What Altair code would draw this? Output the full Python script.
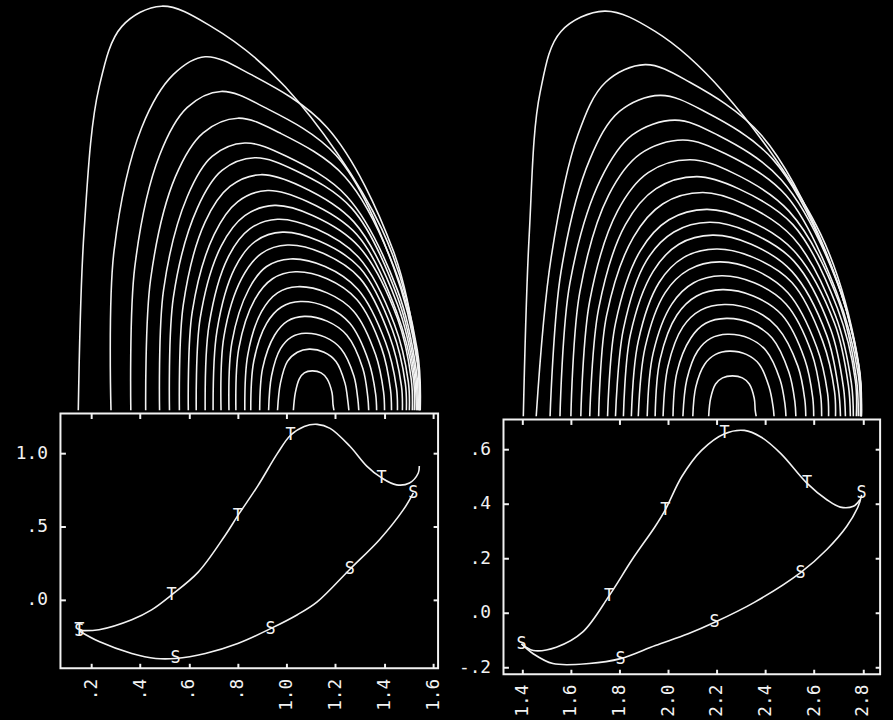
import altair as alt
import pandas as pd

FONT = "DejaVu Sans Mono"
WHITE = "#f2f2f2"

# ---------------- upper panels: nested contour arches ----------------
# fractions of each arch's height at which its x positions were read
LEVELS = [0, 0.45, 0.8, 0.95, 1.0, 0.95, 0.8, 0.45, 0.15, 0]

left_arch_height = [408, 357, 322, 295, 270, 255, 238, 222, 207, 193,
                    180, 167, 153, 140, 125, 110, 95, 78, 62, 40]
left_arch_x = [
    [18, 24, 39, 62, 102, 152, 227, 324, 360, 363],
    [51, 54, 82, 114, 146, 192, 269, 336, 360, 363],
    [71, 75, 100, 128, 162, 206, 278, 336, 360, 362],
    [86, 91, 116, 144, 179, 221, 287, 341, 361, 362],
    [100, 104, 128, 153, 186, 228, 289, 340, 359, 361],
    [110, 114, 138, 163, 196, 237, 294, 340, 358, 360],
    [120, 124, 146, 171, 202, 243, 296, 340, 357, 359],
    [129, 133, 155, 179, 209, 249, 299, 339, 356, 357],
    [137, 141, 162, 186, 216, 255, 301, 340, 354, 355],
    [146, 150, 169, 191, 219, 258, 301, 337, 351, 352],
    [154, 158, 176, 197, 224, 261, 302, 335, 348, 349],
    [162, 165, 183, 203, 229, 265, 302, 332, 344, 345],
    [170, 173, 190, 208, 232, 267, 300, 328, 339, 340],
    [177, 180, 196, 214, 237, 269, 299, 324, 333, 334],
    [186, 189, 203, 219, 239, 269, 296, 318, 326, 327],
    [192, 195, 208, 223, 242, 269, 292, 311, 318, 319],
    [201, 204, 216, 229, 246, 269, 289, 305, 310, 311],
    [210, 213, 222, 233, 247, 267, 283, 296, 300, 301],
    [219, 222, 229, 239, 251, 266, 278, 287, 290, 291],
    [235, 237, 241, 246, 254, 263, 269, 274, 275, 276],
]

right_arch_height = [409, 355, 324, 299, 279, 259, 242, 226, 209, 196,
                     183, 169, 156, 142, 128, 113, 99, 83, 66, 41]
right_arch_x = [
    [20, 26, 37, 58, 102, 153, 222, 320, 357, 361],
    [33, 48, 75, 103, 143, 188, 260, 328, 358, 361],
    [47, 58, 87, 117, 158, 203, 272, 333, 359, 361],
    [57, 67, 98, 130, 173, 216, 280, 337, 359, 361],
    [68, 77, 106, 138, 181, 224, 285, 336, 358, 360],
    [78, 87, 115, 146, 188, 231, 288, 338, 356, 358],
    [87, 96, 123, 154, 195, 237, 292, 337, 355, 356],
    [96, 104, 131, 161, 201, 242, 292, 335, 351, 353],
    [105, 113, 138, 167, 205, 246, 293, 334, 348, 350],
    [113, 121, 144, 172, 208, 248, 293, 330, 343, 345],
    [121, 128, 151, 177, 211, 250, 291, 326, 338, 340],
    [129, 136, 157, 182, 215, 252, 291, 322, 334, 335],
    [136, 143, 163, 187, 218, 253, 287, 316, 327, 328],
    [145, 151, 170, 192, 220, 253, 285, 311, 320, 321],
    [153, 158, 175, 195, 221, 252, 281, 304, 312, 313],
    [161, 166, 181, 199, 223, 252, 276, 297, 304, 305],
    [171, 175, 189, 204, 225, 250, 271, 288, 294, 295],
    [181, 185, 196, 209, 226, 248, 265, 279, 284, 285],
    [191, 194, 203, 214, 228, 245, 258, 268, 272, 273],
    [207, 209, 214, 221, 231, 241, 248, 253, 254, 255],
]

# ---------------- lower panels: T and S curves ----------------
left_T_x = [0.151, 0.232, 0.366, 0.447, 0.529, 0.638, 0.748, 0.800, 0.882, 0.963, 1.016,
            1.072, 1.125, 1.178, 1.259, 1.328, 1.389, 1.450, 1.503, 1.539, 1.543]
left_T_y = [-0.209, -0.203, -0.135, -0.068, 0.034, 0.189, 0.439, 0.574, 0.777, 1.000, 1.122,
            1.182, 1.196, 1.169, 1.047, 0.912, 0.831, 0.784, 0.797, 0.865, 0.912]
left_S_x = [0.151, 0.232, 0.366, 0.464, 0.545, 0.667, 0.800, 0.934, 1.044, 1.125, 1.259,
            1.381, 1.478, 1.519]
left_S_y = [-0.212, -0.284, -0.365, -0.399, -0.399, -0.365, -0.297, -0.196, -0.101, -0.014,
            0.209, 0.412, 0.615, 0.730]
left_Tmark_x = [0.151, 0.529, 0.800, 1.016, 1.389]
left_Tmark_y = [-0.209, 0.034, 0.574, 1.122, 0.831]
left_Smark_x = [0.151, 0.545, 0.934, 1.259, 1.519]
left_Smark_y = [-0.212, -0.399, -0.196, 0.209, 0.730]
left_xdomain = [0.074, 1.62]
left_ydomain = [-0.466, 1.27]
left_xticks = [0.2, 0.4, 0.6, 0.8, 1.0, 1.2, 1.4, 1.6]
left_xlabels = [".2", ".4", ".6", ".8", "1.0", "1.2", "1.4", "1.6"]
left_yticks = [0.0, 0.5, 1.0]
left_ylabels = [".0", ".5", "1.0"]

right_T_x = [1.397, 1.445, 1.540, 1.648, 1.757, 1.852, 1.947, 1.988, 2.056, 2.137, 2.232,
             2.313, 2.381, 2.463, 2.571, 2.652, 2.707, 2.761, 2.788]
right_T_y = [-0.113, -0.137, -0.125, -0.070, 0.063, 0.196, 0.318, 0.378, 0.500, 0.596, 0.657,
             0.669, 0.645, 0.584, 0.475, 0.415, 0.388, 0.391, 0.415]
right_S_x = [1.397, 1.445, 1.526, 1.675, 1.804, 1.947, 2.082, 2.191, 2.354, 2.544, 2.652,
             2.734, 2.781, 2.795]
right_S_y = [-0.113, -0.149, -0.185, -0.185, -0.167, -0.119, -0.076, -0.034, 0.039, 0.148,
             0.233, 0.318, 0.391, 0.433]
right_Tmark_x = [1.757, 1.988, 2.232, 2.571]
right_Tmark_y = [0.063, 0.378, 0.660, 0.475]
right_Smark_x = [1.397, 1.804, 2.191, 2.544, 2.795]
right_Smark_y = [-0.113, -0.167, -0.034, 0.148, 0.440]
right_xdomain = [1.323, 2.871]
right_ydomain = [-0.224, 0.709]
right_xticks = [1.4, 1.6, 1.8, 2.0, 2.2, 2.4, 2.6, 2.8]
right_xlabels = ["1.4", "1.6", "1.8", "2.0", "2.2", "2.4", "2.6", "2.8"]
right_yticks = [-0.2, 0.0, 0.2, 0.4, 0.6]
right_ylabels = ["-.2", ".0", ".2", ".4", ".6"]


def label_expr(values, labels):
    parts = [f"abs(datum.value - ({v})) < 1e-6 ? '{lab}'" for v, lab in zip(values, labels)]
    return " : ".join(parts) + " : ''"


def arch_chart(xs, hs, width, height):
    rows = []
    for k, (xrow, h) in enumerate(zip(xs, hs)):
        for i, (x, f) in enumerate(zip(xrow, LEVELS)):
            rows.append({"arch": k, "i": i, "x": x, "y": f * h})
    df = pd.DataFrame(rows)
    return alt.Chart(df).mark_line(
        interpolate="catmull-rom", color=WHITE, strokeWidth=1.6, clip=True
    ).encode(
        x=alt.X("x:Q", scale=alt.Scale(domain=[0, width], nice=False, zero=False), axis=None),
        y=alt.Y("y:Q", scale=alt.Scale(domain=[0, height], nice=False, zero=False), axis=None),
        detail="arch:N",
        order="i:Q",
    ).properties(width=width, height=height,
                 view=alt.ViewBackground(stroke="transparent"))


def tick_axis(orient, values):
    return alt.Axis(orient=orient, values=values, labels=False, domain=False, grid=False,
                    ticks=True, tickSize=5, tickWidth=2, tickColor=WHITE, offset=-5,
                    title=None)


def inset_chart(Tx, Ty, Sx, Sy, mTx, mTy, mSx, mSy, xdom, ydom,
                xt, xl, yt, yl, width, height):
    rows = []
    for i, (x, y) in enumerate(zip(Tx, Ty)):
        rows.append({"curve": "T", "i": i, "x": x, "y": y})
    for i, (x, y) in enumerate(zip(Sx, Sy)):
        rows.append({"curve": "S", "i": i, "x": x, "y": y})
    curves = pd.DataFrame(rows)
    mrows = [{"label": "T", "x": x, "y": y} for x, y in zip(mTx, mTy)]
    mrows += [{"label": "S", "x": x, "y": y} for x, y in zip(mSx, mSy)]
    marks = pd.DataFrame(mrows)

    xs = alt.Scale(domain=xdom, nice=False, zero=False)
    ys = alt.Scale(domain=ydom, nice=False, zero=False)

    x_lab = alt.Axis(orient="bottom", values=xt, labelExpr=label_expr(xt, xl),
                     labelAngle=270, labelFont=FONT, labelFontSize=18, labelColor=WHITE,
                     labelPadding=10, ticks=False, domain=False, grid=False, title=None,
                     labelOverlap=False)
    y_lab = alt.Axis(orient="left", values=yt, labelExpr=label_expr(yt, yl),
                     labelFont=FONT, labelFontSize=18, labelColor=WHITE,
                     labelPadding=13, ticks=False, domain=False, grid=False, title=None,
                     labelOverlap=False)

    lines = alt.Chart(curves).mark_line(
        interpolate="catmull-rom", color=WHITE, strokeWidth=1.6
    ).encode(
        x=alt.X("x:Q", scale=xs, axis=x_lab),
        y=alt.Y("y:Q", scale=ys, axis=y_lab),
        detail="curve:N",
        order="i:Q",
    )
    text = alt.Chart(marks).mark_text(font=FONT, fontSize=17, color=WHITE).encode(
        x=alt.X("x:Q", scale=xs, axis=None),
        y=alt.Y("y:Q", scale=ys, axis=None),
        text="label:N",
    )

    def ghost(xaxis, yaxis):
        return alt.Chart(marks).mark_point(opacity=0).encode(
            x=alt.X("x:Q", scale=xs, axis=xaxis),
            y=alt.Y("y:Q", scale=ys, axis=yaxis),
        )

    tb = ghost(tick_axis("bottom", xt), None)
    tt = ghost(tick_axis("top", xt), None)
    tl = ghost(None, tick_axis("left", yt))
    tr = ghost(None, tick_axis("right", yt))

    return alt.layer(lines, text, tb, tt, tl, tr).resolve_axis(
        x="independent", y="independent"
    ).properties(width=width, height=height,
                 view=alt.ViewBackground(stroke=WHITE, strokeWidth=2))


left_panel = alt.vconcat(
    arch_chart(left_arch_x, left_arch_height, 381, 410),
    inset_chart(left_T_x, left_T_y, left_S_x, left_S_y,
                left_Tmark_x, left_Tmark_y, left_Smark_x, left_Smark_y,
                left_xdomain, left_ydomain, left_xticks, left_xlabels,
                left_yticks, left_ylabels, 381, 257),
    spacing=0,
)
right_panel = alt.vconcat(
    arch_chart(right_arch_x, right_arch_height, 380, 416),
    inset_chart(right_T_x, right_T_y, right_S_x, right_S_y,
                right_Tmark_x, right_Tmark_y, right_Smark_x, right_Smark_y,
                right_xdomain, right_ydomain, right_xticks, right_xlabels,
                right_yticks, right_ylabels, 380, 257),
    spacing=0,
)

chart = alt.hconcat(left_panel, right_panel, spacing=13).properties(
    background="black",
    padding={"left": 14, "top": 0, "right": 11, "bottom": 2},
).configure_view(stroke="transparent")

chart.save("out.html", embed_options={"renderer": "svg", "actions": False})
